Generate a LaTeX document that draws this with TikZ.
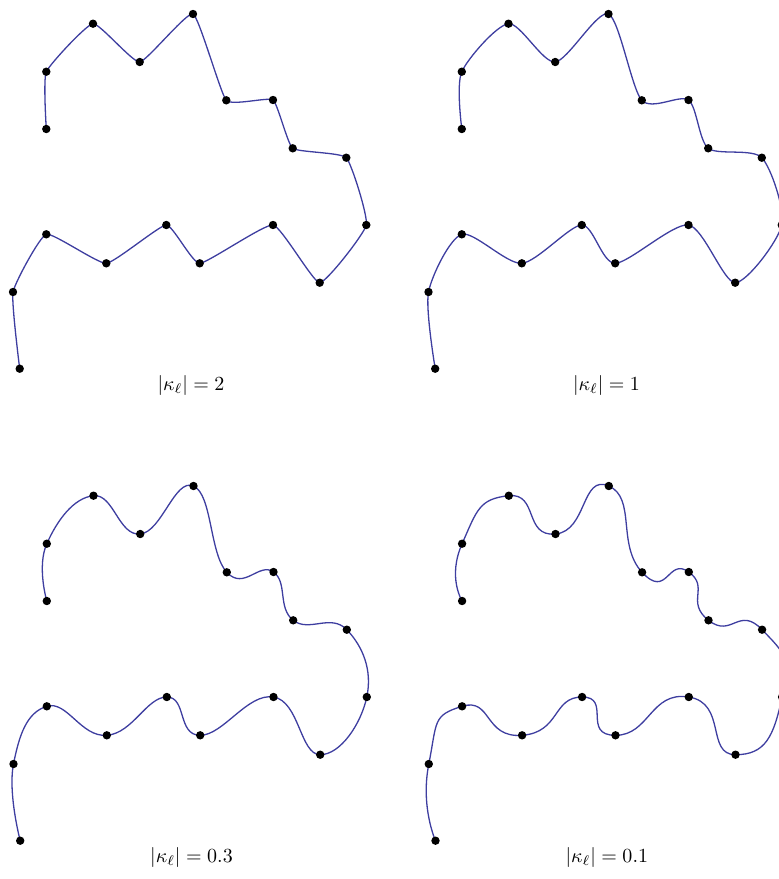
\documentclass[tikz,border=0pt]{standalone}
\definecolor{curveblue}{RGB}{62,62,160}
\tikzset{
  dot/.style={circle, fill=black, inner sep=0pt, minimum size=4.2pt},
  curveline/.style={draw=curveblue, line width=0.65pt},
  caption/.style={inner sep=0pt, font=\normalsize}
}
\def\ptlist{46.3/129, 46.3/71.7, 93/23.7, 139.7/62, 193/14, 226.3/100.3, 273/100, 292.7/148.3, 346.3/157.7, 366.3/225, 319.7/282.7, 273/225, 199.7/263.3, 166.3/225, 106.3/263.3, 46.3/234.3, 13/292, 19.7/368.7}
\newcommand\mypanel[5]{% prefix, dx, dy, tension, label
  \begin{scope}[shift={(#2,#3)}]
    \foreach \px/\py [count=\i] in \ptlist {\coordinate (#1-\i) at (\px,\py);}
    \draw[curveline] plot[smooth, tension=#4] coordinates {(#1-1) (#1-2) (#1-3) (#1-4) (#1-5) (#1-6) (#1-7) (#1-8) (#1-9) (#1-10) (#1-11) (#1-12) (#1-13) (#1-14) (#1-15) (#1-16) (#1-17) (#1-18)};
    \foreach \i in {1,...,18} {\node[dot] (#1d-\i) at (#1-\i) {};}
    \node[caption] (#1-label) at (191,385) {$|\kappa_\ell| = #5$};
  \end{scope}}
\begin{document}
\begin{tikzpicture}[x=0.5pt,y=-0.5pt]
\useasboundingbox (0,0) rectangle (779,879);
\clip (0,0) rectangle (779,879);
\mypanel{A}{0}{0}{0.25}{2}
\mypanel{B}{415.5}{0}{0.45}{1}
\mypanel{C}{0.5}{472}{0.78}{0.3}
\mypanel{D}{415.8}{472}{1.15}{0.1}
\end{tikzpicture}
\end{document}
